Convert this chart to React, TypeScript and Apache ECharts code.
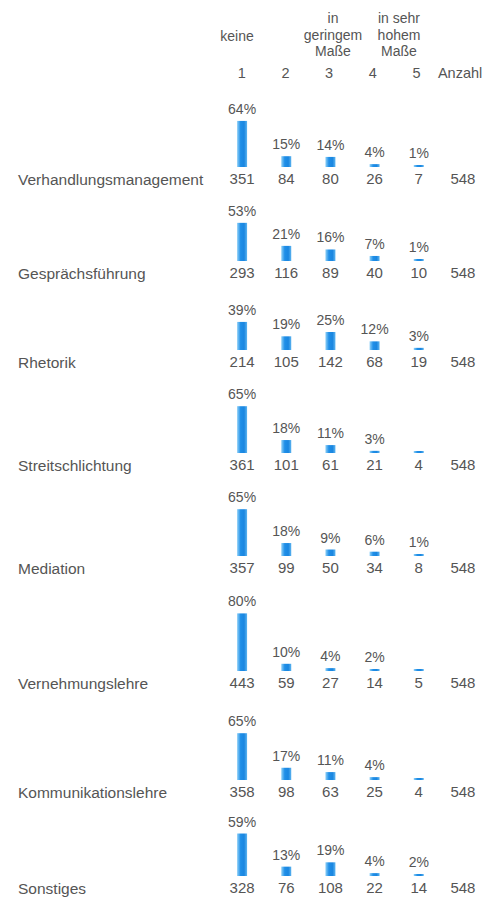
import React, { useEffect, useRef } from "react";
import * as echarts from "echarts";

const skills = [
  "Verhandlungsmanagement",
  "Gesprächsführung",
  "Rhetorik",
  "Streitschlichtung",
  "Mediation",
  "Vernehmungslehre",
  "Kommunikationslehre",
  "Sonstiges",
];

const scaleLabels = ["1", "2", "3", "4", "5", "Anzahl"];

// percentage per scale point (values below 1 have no printed label)
const percentages = [
  [64, 15, 14, 4, 1],
  [53, 21, 16, 7, 1],
  [39, 19, 25, 12, 3],
  [65, 18, 11, 3, 0.7],
  [65, 18, 9, 6, 1],
  [80, 10, 4, 2, 0.9],
  [65, 17, 11, 4, 0.7],
  [59, 13, 19, 4, 2],
];

const counts = [
  [351, 84, 80, 26, 7],
  [293, 116, 89, 40, 10],
  [214, 105, 142, 68, 19],
  [361, 101, 61, 21, 4],
  [357, 99, 50, 34, 8],
  [443, 59, 27, 14, 5],
  [358, 98, 63, 25, 4],
  [328, 76, 108, 22, 14],
];

const totals = [548, 548, 548, 548, 548, 548, 548, 548];

export default function App() {
  const ref = useRef<HTMLDivElement>(null);

  useEffect(() => {
    if (!ref.current) return;
    const chart = echarts.init(ref.current, undefined, { renderer: "svg" });
    const font = "'Liberation Sans', Arial, sans-serif";
    const textColor = "#555555";

    // layout: bottom (bar base) y of each row
    const rowBottoms = [167, 261, 350, 453, 556, 671, 780, 876];
    const gridH = 72; // 100% -> 72px
    const gridLeft = 220;

    const grids: any[] = [];
    const xAxes: any[] = [];
    const yAxes: any[] = [];
    const series: any[] = [];
    const graphics: any[] = [];

    const barColor = new echarts.graphic.LinearGradient(0, 0, 1, 0, [
      { offset: 0, color: "#8fd0f7" },
      { offset: 0.35, color: "#1f8fe8" },
      { offset: 0.7, color: "#1a86e0" },
      { offset: 1, color: "#5cb4f0" },
    ]);

    rowBottoms.forEach((bottom, r) => {
      grids.push({
        left: gridLeft,
        right: 0,
        top: bottom - gridH,
        height: gridH,
        containLabel: false,
      });
      const rowCounts = counts[r];
      xAxes.push({
        type: "category",
        gridIndex: r,
        data: scaleLabels,
        axisLine: { show: false },
        axisTick: { show: false },
        axisLabel: {
          interval: 0,
          margin: 4,
          color: textColor,
          fontFamily: font,
          fontSize: 15,
          formatter: (_v: string, i: number) =>
            i < rowCounts.length ? String(rowCounts[i]) : String(totals[r]),
        },
      });
      yAxes.push({
        type: "value",
        gridIndex: r,
        min: 0,
        max: 100,
        show: false,
      });
      series.push({
        type: "bar",
        xAxisIndex: r,
        yAxisIndex: r,
        data: [...percentages[r], null],
        barWidth: 10,
        barMinHeight: 2,
        itemStyle: { color: barColor },
        label: {
          show: true,
          position: "top",
          distance: 5,
          color: textColor,
          fontFamily: font,
          fontSize: 14,
          formatter: (p: any) => (p.value >= 1 ? `${p.value}%` : ""),
        },
      });
      graphics.push({
        type: "text",
        left: 18,
        top: bottom + 4,
        style: {
          text: skills[r],
          fill: textColor,
          font: `15.5px ${font}`,
        },
      });
    });

    // header scale row as top axis of a thin grid
    const hIdx = rowBottoms.length;
    grids.push({ left: gridLeft, right: 0, top: 81, height: 1 });
    xAxes.push({
      type: "category",
      gridIndex: hIdx,
      position: "top",
      data: scaleLabels,
      axisLine: { show: false },
      axisTick: { show: false },
      axisLabel: {
        interval: 0,
        margin: 1,
        color: textColor,
        fontFamily: font,
        fontSize: 14.5,
      },
    });
    yAxes.push({ type: "value", gridIndex: hIdx, show: false });

    const headerStyle = (text: string) => ({
      text,
      fill: textColor,
      font: `14px ${font}`,
      align: "center",
      lineHeight: 16.5,
    });
    graphics.push(
      { type: "text", x: 237, y: 28, style: headerStyle("keine") },
      { type: "text", x: 333, y: 10, style: headerStyle("in\ngeringem\nMaße") },
      { type: "text", x: 399, y: 10, style: headerStyle("in sehr\nhohem\nMaße") }
    );

    chart.setOption({
      animation: false,
      backgroundColor: "#ffffff",
      grid: grids,
      xAxis: xAxes,
      yAxis: yAxes,
      series,
      graphic: graphics,
    });

    return () => chart.dispose();
  }, []);

  return (
    <div
      ref={ref}
      style={{ position: "fixed", left: 0, top: 0, width: 485, height: 900 }}
    />
  );
}
